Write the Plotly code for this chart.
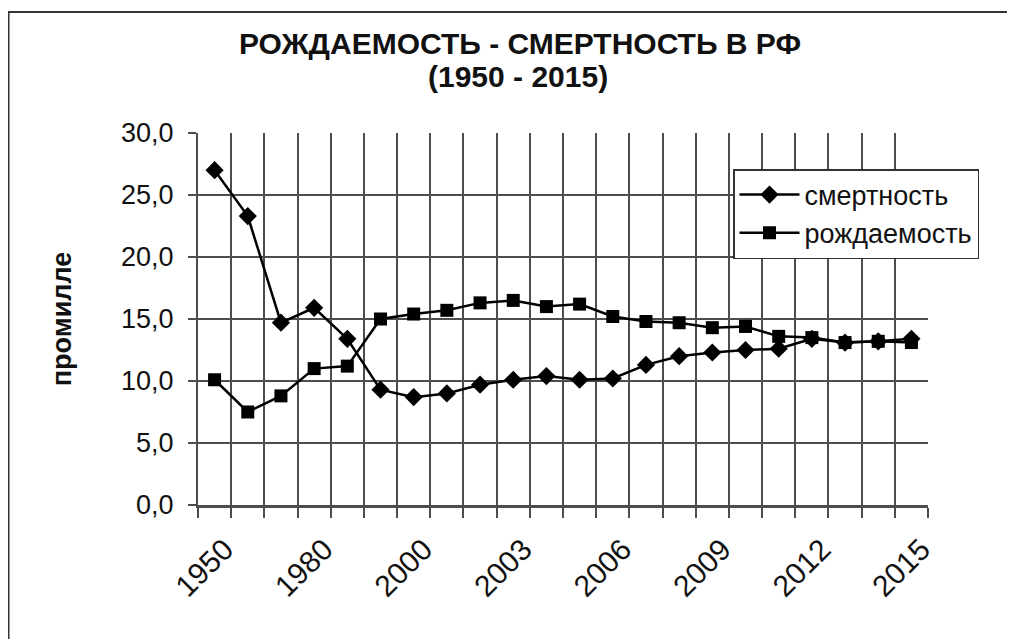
import plotly.graph_objects as go

categories = ["1950", "1960", "1970", "1980", "1990", "1995",
              "2000", "2001", "2002", "2003", "2004", "2005", "2006", "2007",
              "2008", "2009", "2010", "2011", "2012", "2013", "2014", "2015"]
shown_labels = ["1950", "1980", "2000", "2003", "2006", "2009", "2012", "2015"]

smertnost = [27.0, 23.3, 14.7, 15.9, 13.4, 9.3, 8.7, 9.0, 9.7, 10.1, 10.4,
             10.1, 10.2, 11.3, 12.0, 12.3, 12.5, 12.6, 13.4, 13.1, 13.2, 13.4]
rozhdaemost = [10.1, 7.5, 8.8, 11.0, 11.2, 15.0, 15.4, 15.7, 16.3, 16.5, 16.0,
               16.2, 15.2, 14.8, 14.7, 14.3, 14.4, 13.6, 13.5, 13.1, 13.2, 13.1]

y_ticks = [0, 5, 10, 15, 20, 25, 30]
y_grid = [5, 10, 15, 20, 25]

title_line1 = "РОЖДАЕМОСТЬ - СМЕРТНОСТЬ В РФ"
title_line2 = "(1950 - 2015)"

W, H = 1015, 639
# the page body adds an 8px offset, so figure coords = screen coords - 8
L, R, T, B = 190, 920, 125, 497

fig = go.Figure()
fig.add_trace(go.Scatter(
    x=categories, y=smertnost, name="смертность", mode="lines+markers",
    line=dict(color="#000000", width=2.5),
    marker=dict(symbol="diamond", size=14, color="#000000"),
    legendgroup="a"))
fig.add_trace(go.Scatter(
    x=categories, y=rozhdaemost, name="рождаемость", mode="lines+markers",
    line=dict(color="#000000", width=2.5),
    marker=dict(symbol="square", size=13, color="#000000"),
    legendgroup="b"))

grid_col = "#4d4d4d"
fig.update_layout(
    width=W, height=H,
    margin=dict(l=L, r=W - R, t=T, b=H - B),
    paper_bgcolor="white", plot_bgcolor="white",
    separators=", ",
    font=dict(family="Liberation Sans, Arial, sans-serif", color="#111111"),
    showlegend=True,
    title=dict(
        text="<b>" + title_line1 + "</b>",
        font=dict(size=30, color="#111111"),
        x=512 / W, xref="container", xanchor="center",
        y=1 - 35 / H, yref="container", yanchor="middle"),
    legend=dict(
        x=(725 - L) / (R - L), y=(B - 161) / (B - T),
        xanchor="left", yanchor="top",
        bgcolor="white", bordercolor="#333333", borderwidth=1.5,
        font=dict(size=27, color="#111111"),
        itemwidth=60, tracegroupgap=0),
    xaxis=dict(
        type="category", tickson="boundaries",
        tickmode="array", tickvals=categories,
        ticktext=[c if c in shown_labels else "" for c in categories],
        tickangle=-45, tickfont=dict(size=30, color="#111111"),
        ticklabelshift=10, ticklabelstandoff=12,
        ticks="outside", ticklen=10, tickcolor=grid_col, tickwidth=1.5,
        showgrid=True, gridcolor=grid_col, gridwidth=1.8,
        showline=True, linecolor=grid_col, linewidth=2.5,
        range=[-0.5, len(categories) - 0.5]),
    yaxis=dict(
        range=[0, 30], tickmode="array", tickvals=y_ticks,
        tickformat=".1f", tickfont=dict(size=27, color="#111111"),
        ticks="outside", ticklen=8, tickcolor=grid_col, tickwidth=1.8,
        ticklabelstandoff=9,
        showgrid=False,
        minor=dict(tickmode="array", tickvals=y_grid, showgrid=True,
                   gridcolor=grid_col, gridwidth=2.2, ticks=""),
        showline=True, linecolor=grid_col, linewidth=2,
        zeroline=False,
        title=dict(text="<b>промилле</b>", font=dict(size=27, color="#111111"),
                   standoff=42)),
)

fig.add_annotation(
    text="<b>" + title_line2 + "</b>", showarrow=False,
    xref="paper", yref="paper", x=(510 - L) / (R - L), y=(B - 69) / (B - T),
    xanchor="center", yanchor="middle",
    font=dict(size=30, color="#111111"))

# outer chart frame
fig.add_shape(type="rect", xref="paper", yref="paper",
              x0=(0.5 - L) / (R - L), x1=(1030 - L) / (R - L),
              y0=(B - 660) / (B - T), y1=(B - 4) / (B - T),
              line=dict(color="#333333", width=2), layer="below")

fig.write_html("out.html")
